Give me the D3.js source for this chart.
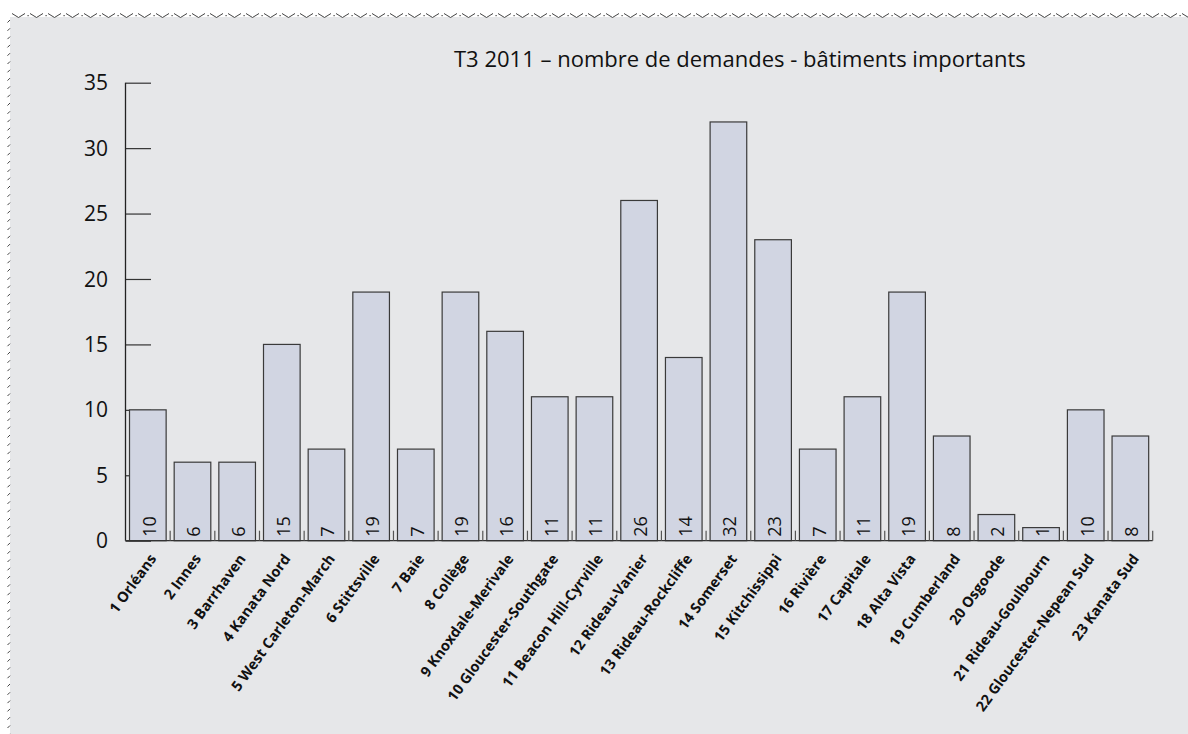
<!DOCTYPE html>
<html>
<head>
<meta charset="utf-8">
<script src="https://cdn.jsdelivr.net/npm/d3@7"></script>
<style>
  html, body { margin: 0; padding: 0; background: #ffffff; }
  svg { display: block; }
</style>
</head>
<body>
<svg id="chart" width="1188" height="734"></svg>
<script>
// Quartier (ward) names and request counts for Q3 2011
const categories = [
  "1 Orléans", "2 Innes", "3 Barrhaven", "4 Kanata Nord", "5 West Carleton-March",
  "6 Stittsville", "7 Baie", "8 Collège", "9 Knoxdale-Merivale", "10 Gloucester-Southgate",
  "11 Beacon Hill-Cyrville", "12 Rideau-Vanier", "13 Rideau-Rockcliffe", "14 Somerset",
  "15 Kitchissippi", "16 Rivière", "17 Capitale", "18 Alta Vista", "19 Cumberland",
  "20 Osgoode", "21 Rideau-Goulbourn", "22 Gloucester-Nepean Sud", "23 Kanata Sud"
];
const values = [10, 6, 6, 15, 7, 19, 7, 19, 16, 11, 11, 26, 14, 32, 23, 7, 11, 19, 8, 2, 1, 10, 8];
const yTicks = [0, 5, 10, 15, 20, 25, 30, 35];
const title = "T3 2011 – nombre de demandes - bâtiments importants";

const W = 1188, H = 734;
const svg = d3.select("#chart");

// Panel background with a stitched edge along top and left
const panelX = 10, panelY = 17;
svg.append("rect")
  .attr("x", panelX).attr("y", panelY)
  .attr("width", W - panelX).attr("height", H - panelY)
  .attr("fill", "#e6e7e9");

const edge = svg.append("g").attr("stroke", "#444").attr("fill", "none").attr("stroke-width", 1);
let zig = "";
for (let x = 12; x < W; x += 18) {
  zig += `M${x},13.5L${x + 6.5},17.5L${x + 13},13.5`;
}
edge.append("path").attr("d", zig);
for (let x = 27.5; x < W; x += 18) {
  edge.append("rect").attr("x", x).attr("y", 15).attr("width", 1.2).attr("height", 1.2)
    .attr("fill", "#444").attr("stroke", "none");
}
let slash = "";
for (let y = 20; y < H; y += 8.3) {
  slash += `M7.5,${y + 2.5}L10,${y}`;
}
edge.append("path").attr("d", slash);

// Scales
const x0 = 125.5, x1 = 1152.7;
const yBase = 540.7, yTop = 82.7;
const x = d3.scaleBand().domain(categories).range([x0, x1]).paddingInner(0.18).paddingOuter(0.09);
const y = d3.scaleLinear().domain([0, 35]).range([yBase, yTop]);

// Title
svg.append("text")
  .attr("x", 454).attr("y", 67)
  .attr("font-family", "'Open Sans', sans-serif")
  .attr("font-size", 22)
  .attr("fill", "#111")
  .text(title);

// Y axis: ticks point inward, labels on the left
const yAxis = svg.append("g").attr("transform", `translate(${x0},0)`)
  .call(d3.axisRight(y).tickValues(yTicks).tickSize(25.5).tickFormat(""));
yAxis.select(".domain").remove();
yAxis.selectAll(".tick line").attr("stroke", "#333").attr("stroke-width", 1.2);

svg.append("line")
  .attr("x1", x0).attr("x2", x0).attr("y1", yTop).attr("y2", yBase)
  .attr("stroke", "#222").attr("stroke-width", 1.3);

svg.append("g").selectAll("text").data(yTicks).join("text")
  .attr("x", 108).attr("y", d => y(d))
  .attr("dy", "0.36em")
  .attr("text-anchor", "end")
  .attr("font-family", "'Open Sans', sans-serif")
  .attr("font-size", 21)
  .attr("fill", "#111")
  .text(d => d);

// Bars
svg.append("g").selectAll("rect").data(values).join("rect")
  .attr("x", (d, i) => x(categories[i]))
  .attr("y", d => y(d))
  .attr("width", x.bandwidth())
  .attr("height", d => yBase - y(d))
  .attr("fill", "#d1d5e2")
  .attr("stroke", "#3a3a3a")
  .attr("stroke-width", 1.2);

// X axis baseline with short upward ticks at band boundaries
svg.append("line")
  .attr("x1", x0).attr("x2", x1).attr("y1", yBase).attr("y2", yBase)
  .attr("stroke", "#333").attr("stroke-width", 1.3);
const step = x.step();
const bounds = d3.range(1, categories.length + 1).map(k => x0 + k * step);
svg.append("g").selectAll("line").data(bounds).join("line")
  .attr("x1", d => d).attr("x2", d => d)
  .attr("y1", yBase).attr("y2", yBase - 10)
  .attr("stroke", "#555").attr("stroke-width", 1.2);

// Value labels inside bars, reading upward
svg.append("g").selectAll("text").data(values).join("text")
  .attr("transform", (d, i) => `translate(${x(categories[i]) + x.bandwidth() / 2 + 1.5},${yBase - 4}) rotate(-90)`)
  .attr("dy", "0.36em")
  .attr("text-anchor", "start")
  .attr("font-family", "'Open Sans', sans-serif")
  .attr("font-size", 18)
  .attr("fill", "#111")
  .text(d => d);

// Category labels, slanted
svg.append("g").selectAll("text").data(categories).join("text")
  .attr("transform", d => `translate(${x(d) + x.bandwidth() / 2 + 5},${yBase + 15}) rotate(-54)`)
  .attr("dy", "0.36em")
  .attr("text-anchor", "end")
  .attr("font-family", "'Open Sans', sans-serif")
  .attr("font-weight", "bold")
  .attr("font-size", 14.5)
  .attr("fill", "#111")
  .text(d => d);
</script>
</body>
</html>
